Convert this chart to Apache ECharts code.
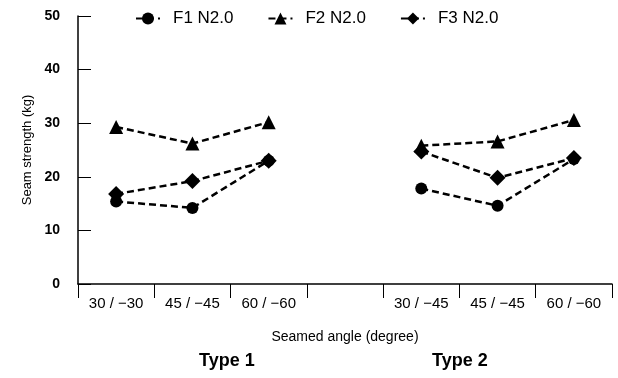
<!DOCTYPE html>
<html>
<head>
<meta charset="utf-8">
<script src="https://cdn.jsdelivr.net/npm/echarts@6/dist/echarts.min.js"></script>
<style>
  html, body { margin: 0; padding: 0; background: #fff; }
  #chart { width: 618px; height: 378px; }
</style>
</head>
<body>
<div id="chart"></div>
<script>
// categories: the empty one separates Type 1 from Type 2
const categories = ['30 / −30', '45 / −45', '60 / −60', '', '30 / −45', '45 / −45', '60 / −60']
const seriesNames = ['F1 N2.0', 'F2 N2.0', 'F3 N2.0']
const f1Values = [15.4, 14.2, 23.0, null, 17.8, 14.6, 23.3]
const f2Values = [29.3, 26.2, 30.2, null, 25.8, 26.6, 30.6]
const f3Values = [16.8, 19.2, 23.0, null, 24.7, 19.8, 23.5]
const yTicks = [0, 10, 20, 30, 40, 50]
const groupLabels = ['Type 1', 'Type 2']

const chart = echarts.init(document.getElementById('chart'))

const font = 'Liberation Sans, Arial, sans-serif'

const makeSeries = (name, data, symbol, size) => ({
  name: name,
  type: 'line',
  data: data,
  symbol: symbol,
  symbolSize: size,
  connectNulls: false,
  lineStyle: { color: '#000', width: 2.5, type: [7, 4] },
  itemStyle: { color: '#000' },
  animation: false
})

const option = {
  backgroundColor: '#fff',
  legend: {
    left: 130,
    top: 5,
    itemWidth: 24,
    itemHeight: 15,
    itemGap: 34,
    textStyle: { fontFamily: font, fontSize: 17, color: '#000', padding: [0, 0, 0, 8] },
    data: seriesNames
  },
  grid: { left: 78, right: 6, top: 16, bottom: 94 },
  xAxis: {
    type: 'category',
    data: categories,
    name: 'Seamed angle (degree)',
    nameLocation: 'middle',
    nameGap: 46,
    nameTextStyle: { fontFamily: font, fontSize: 14, color: '#000' },
    axisLine: { lineStyle: { color: '#000', width: 1.5 } },
    axisTick: { show: true, length: 14, interval: 0, lineStyle: { color: '#000' } },
    axisLabel: { interval: 0, fontFamily: font, fontSize: 15, color: '#000', margin: 12 }
  },
  yAxis: {
    type: 'value',
    min: yTicks[0],
    max: yTicks[yTicks.length - 1],
    interval: 10,
    name: 'Seam strength (kg)',
    nameLocation: 'middle',
    nameGap: 44,
    nameTextStyle: { fontFamily: font, fontSize: 13, color: '#000' },
    splitLine: { show: false },
    axisLine: { show: true, lineStyle: { color: '#000', width: 1.5 } },
    axisTick: { show: true, inside: true, length: 13, lineStyle: { color: '#000' } },
    axisLabel: { fontFamily: font, fontSize: 14, fontWeight: 'bold', color: '#000', margin: 18 }
  },
  graphic: [
    {
      type: 'text', left: 199, top: 352,
      style: { text: groupLabels[0], fontFamily: font, fontSize: 18, fontWeight: 'bold', fill: '#000' }
    },
    {
      type: 'text', left: 432, top: 352,
      style: { text: groupLabels[1], fontFamily: font, fontSize: 18, fontWeight: 'bold', fill: '#000' }
    }
  ],
  series: [
    makeSeries(seriesNames[0], f1Values, 'circle', 12),
    makeSeries(seriesNames[1], f2Values, 'triangle', 14),
    makeSeries(seriesNames[2], f3Values, 'diamond', 16)
  ]
}

chart.setOption(option)
</script>
</body>
</html>
